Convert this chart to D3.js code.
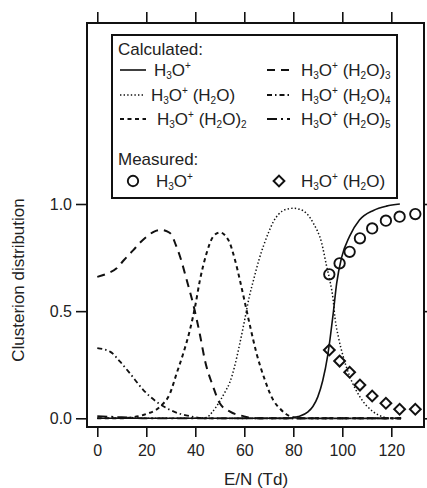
<!DOCTYPE html>
<html>
<head>
<meta charset="utf-8">
<script src="https://cdn.jsdelivr.net/npm/d3@7"></script>
<style>
  body { margin: 0; background: #fff; }
  svg text { font-family: "Liberation Sans", Arial, Helvetica, sans-serif; fill: #222; }
</style>
</head>
<body>
<svg id="chart"></svg>
<script>
// calculated cluster distributions, [E/N, fraction]
const h3o = [[0,0],[20,0],[40,0],[60,0],[78,0],[82,0.008],[86,0.03],[88,0.055],[90,0.1],[92,0.175],[94,0.29],[95,0.37],[96.3,0.49],[97.7,0.63],[99.7,0.75],[103,0.85],[107,0.925],[112.7,0.97],[118,0.99],[123.5,1.0]]
const h3oH2o = [[0,0],[40,0],[44.6,0.004],[47,0.03],[50,0.08],[52,0.12],[54,0.165],[56,0.24],[58,0.34],[60,0.45],[62,0.565],[64,0.655],[66,0.74],[68,0.81],[70,0.87],[72,0.92],[74,0.952],[77,0.975],[80,0.98],[82.7,0.975],[85.5,0.955],[88.2,0.91],[91.6,0.817],[93.6,0.71],[95,0.64],[96.3,0.55],[97,0.47],[98.4,0.38],[100.4,0.287],[103.1,0.194],[107.2,0.10],[112.7,0.03],[116.7,0.006],[120,0],[124,0]]
const h3oH2o2 = [[0,0],[10,0],[16,0.008],[20,0.02],[25.6,0.054],[29.7,0.117],[32.4,0.21],[35.1,0.303],[37.8,0.412],[39.9,0.52],[41.9,0.645],[44.6,0.77],[47.3,0.848],[50,0.867],[53.5,0.832],[56.2,0.739],[58.2,0.645],[60.3,0.537],[62.4,0.428],[65,0.303],[68.4,0.179],[71.8,0.085],[74.6,0.045],[77,0.02],[80,0.005],[84,0],[124,0]]
const h3oH2o3 = [[0,0.66],[4,0.675],[7.9,0.70],[11,0.74],[14.7,0.785],[17.5,0.82],[20.2,0.848],[23,0.87],[26.3,0.879],[28.5,0.872],[30.4,0.855],[32,0.81],[33.8,0.754],[36.5,0.645],[39.2,0.53],[41.9,0.39],[43.9,0.272],[47.3,0.147],[50,0.07],[54.2,0.031],[59.6,0.01],[64,0],[124,0]]
const h3oH2o4 = [[0,0.327],[5.2,0.311],[9.3,0.264],[13.3,0.21],[18.8,0.132],[24.2,0.077],[29.7,0.039],[34,0.02],[37.8,0.01],[44,0],[124,0]]
const h3oH2o5 = [[0,0.01],[10,0.005],[20,0],[124,0]]

// measured
const measE = [94.7, 98.9, 103, 107.2, 112.2, 117.8, 123.4, 129.8]
const measH3o = [0.672, 0.723, 0.777, 0.84, 0.886, 0.922, 0.941, 0.953]
const measH3oH2o = [0.319, 0.267, 0.215, 0.155, 0.104, 0.07, 0.042, 0.042]

const xTicks = [0, 20, 40, 60, 80, 100, 120]
const yTicks = [0, 0.5, 1.0]

// legend labels: [text, "sub" | "sup" | ""]
const labH3o = [["H",""],["3","sub"],["O",""],["+","sup"]]
const labN1 = labH3o.concat([[" (H",""],["2","sub"],["O)",""]])
const labN = n => labN1.concat([["" + n, "sub"]])

;(function(){

    const W = 427, H = 488
    const margin = {top: 23, right: 3, bottom: 61, left: 87}
    const width = W - margin.left - margin.right
    const height = H - margin.top - margin.bottom

    const root = d3.select("#chart").attr("width", W).attr("height", H)
    const svg = root.append("g")
        .attr("transform", "translate(" + margin.left + "," + margin.top + ")")

    const x = d3.scaleLinear().domain([-4.2, 133.35]).range([0, width])
    const y = d3.scaleLinear().domain([-0.0406, 1.8446]).range([height, 0])

    // axes
    const fmt = d3.format(".1f")
    svg.append("g")
        .call(d3.axisLeft(y).tickValues(yTicks).tickFormat(fmt).tickSize(11).tickPadding(4))
    svg.append("g")
        .attr("transform", "translate(0," + height + ")")
        .call(d3.axisBottom(x).tickValues(xTicks).tickSize(10).tickPadding(8))
    svg.append("g")
        .call(d3.axisTop(x).tickValues(xTicks).tickSize(11).tickFormat(""))
    svg.append("g")
        .attr("transform", "translate(" + width + ",0)")
        .call(d3.axisRight(y).tickValues(yTicks).tickSize(8).tickFormat(""))

    svg.selectAll(".domain").remove()
    svg.selectAll(".tick line").attr("stroke", "#111").attr("stroke-width", 1.6)
    svg.selectAll(".tick text").attr("font-size", "16px").style("font-family", "Liberation Sans, Arial, sans-serif").attr("fill", "#222")

    svg.append("rect")
        .attr("width", width).attr("height", height)
        .attr("fill", "none").attr("stroke", "#111").attr("stroke-width", 2)

    // axis titles
    root.append("text")
        .attr("x", 256).attr("y", 485)
        .attr("text-anchor", "middle").attr("font-size", "17px")
        .text("E/N (Td)")
    root.append("text")
        .attr("transform", "translate(24,280) rotate(-90)")
        .attr("text-anchor", "middle").attr("font-size", "17px")
        .text("Clusterion distribution")

    // calculated curves
    const line = d3.line()
        .x(d => x(d[0]))
        .y(d => y(d[1]))
        .curve(d3.curveMonotoneX)

    const series = [
        {data: h3o,     dash: null,          w: 1.6, lab: labH3o},
        {data: h3oH2o,  dash: "1.4,2.2",     w: 1.5, lab: labN1},
        {data: h3oH2o2, dash: "4,3.5",       w: 2,   lab: labN(2)},
        {data: h3oH2o3, dash: "8,6",         w: 2,   lab: labN(3)},
        {data: h3oH2o4, dash: "5,3,1.5,3",   w: 1.8, lab: labN(4)},
        {data: h3oH2o5, dash: "10,4,2,4",    w: 1.8, lab: labN(5)}
    ]

    const plot = svg.append("g")
    series.forEach(s => {
        plot.append("path")
            .attr("d", line(s.data))
            .attr("fill", "none")
            .attr("stroke", "#111")
            .attr("stroke-width", s.w)
            .attr("stroke-dasharray", s.dash)
    })

    // measured points
    const diamond = d3.symbol().type(d3.symbolSquare).size(58)
    plot.selectAll("circle.m")
        .data(measE)
        .enter().append("circle")
        .attr("cx", d => x(d))
        .attr("cy", (d, i) => y(measH3o[i]))
        .attr("r", 5.2)
        .attr("fill", "none").attr("stroke", "#111").attr("stroke-width", 1.9)
    plot.selectAll("path.dm")
        .data(measE)
        .enter().append("path")
        .attr("class", "dm")
        .attr("d", diamond)
        .attr("transform", (d, i) => "translate(" + x(d) + "," + y(measH3oH2o[i]) + ") rotate(45)")
        .attr("fill", "none").attr("stroke", "#111").attr("stroke-width", 2)

    // legend
    const leg = root.append("g")
    leg.append("rect")
        .attr("x", 112).attr("y", 35).attr("width", 285).attr("height", 163)
        .attr("fill", "#fff").attr("stroke", "#111").attr("stroke-width", 2)

    function label(g, parts, lx, ly) {
        const t = g.append("text").attr("x", lx).attr("y", ly).attr("font-size", "17px")
        let off = 0
        parts.forEach(p => {
            const target = p[1] == "sub" ? 3 : p[1] == "sup" ? -7 : 0
            t.append("tspan")
                .attr("dy", target - off)
                .attr("font-size", p[1] ? "10px" : "17px")
                .text(p[0])
            off = target
        })
    }

    leg.append("text").attr("x", 118).attr("y", 55).attr("font-size", "17px").text("Calculated:")
    leg.append("text").attr("x", 118).attr("y", 165).attr("font-size", "17px").text("Measured:")

    const slots = [
        {sx: 120, ex: 146, tx: 154, ty: 76},
        {sx: 120, ex: 144, tx: 151, ty: 101},
        {sx: 120, ex: 146, tx: 157, ty: 125},
        {sx: 267, ex: 290, tx: 301, ty: 76},
        {sx: 267, ex: 290, tx: 301, ty: 101},
        {sx: 267, ex: 290, tx: 301, ty: 125}
    ]
    series.forEach((s, i) => {
        const sl = slots[i]
        leg.append("line")
            .attr("x1", sl.sx).attr("x2", sl.ex)
            .attr("y1", sl.ty - 6).attr("y2", sl.ty - 6)
            .attr("stroke", "#111").attr("stroke-width", s.w)
            .attr("stroke-dasharray", s.dash)
        label(leg, s.lab, sl.tx, sl.ty)
    })

    leg.append("circle").attr("cx", 133).attr("cy", 181).attr("r", 5.2)
        .attr("fill", "none").attr("stroke", "#111").attr("stroke-width", 1.9)
    label(leg, labH3o, 156, 187)
    leg.append("path").attr("d", diamond)
        .attr("transform", "translate(279,181) rotate(45)")
        .attr("fill", "none").attr("stroke", "#111").attr("stroke-width", 2)
    label(leg, labN1, 301, 187)

})()
</script>
</body>
</html>
